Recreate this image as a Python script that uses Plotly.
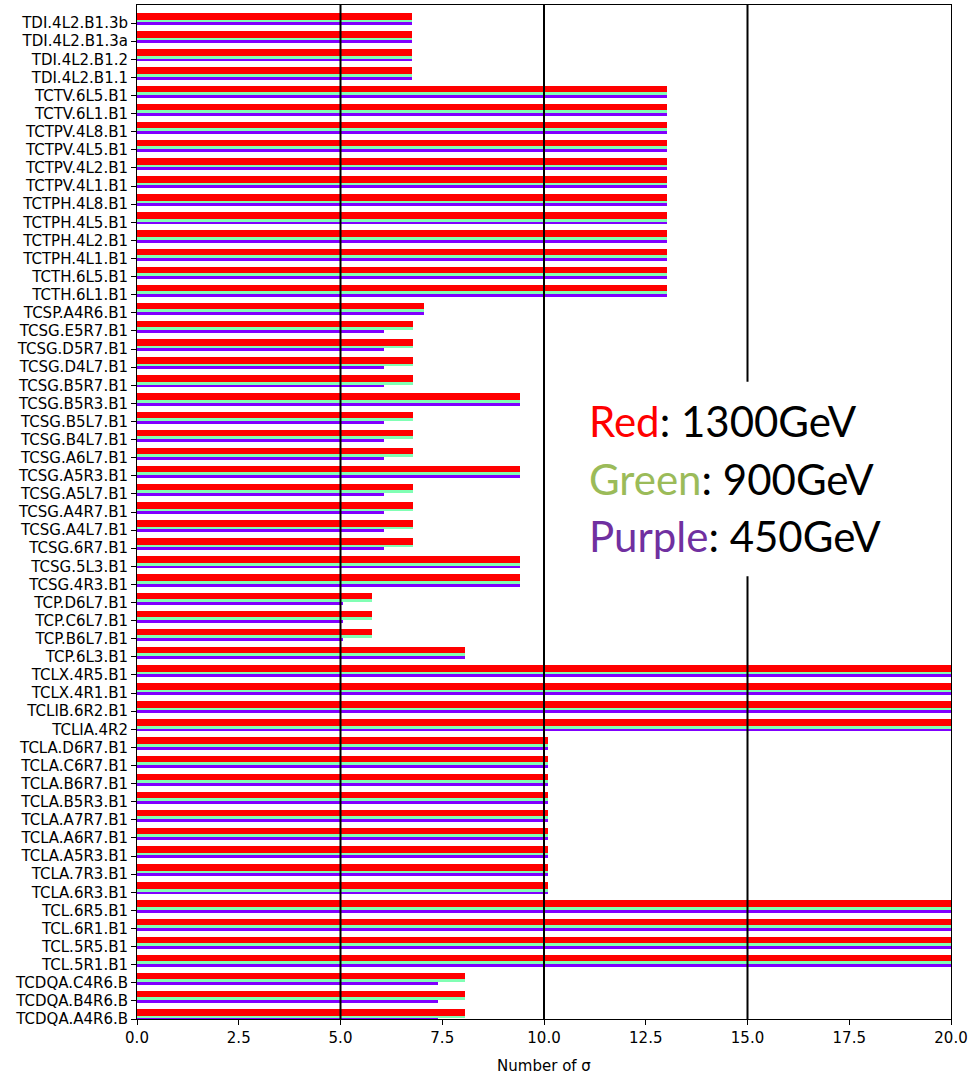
import plotly.graph_objects as go

categories = [
    "TCDQA.A4R6.B", "TCDQA.B4R6.B", "TCDQA.C4R6.B",
    "TCL.5R1.B1", "TCL.5R5.B1", "TCL.6R1.B1", "TCL.6R5.B1",
    "TCLA.6R3.B1", "TCLA.7R3.B1", "TCLA.A5R3.B1", "TCLA.A6R7.B1", "TCLA.A7R7.B1",
    "TCLA.B5R3.B1", "TCLA.B6R7.B1", "TCLA.C6R7.B1", "TCLA.D6R7.B1",
    "TCLIA.4R2", "TCLIB.6R2.B1", "TCLX.4R1.B1", "TCLX.4R5.B1",
    "TCP.6L3.B1", "TCP.B6L7.B1", "TCP.C6L7.B1", "TCP.D6L7.B1",
    "TCSG.4R3.B1", "TCSG.5L3.B1", "TCSG.6R7.B1", "TCSG.A4L7.B1", "TCSG.A4R7.B1",
    "TCSG.A5L7.B1", "TCSG.A5R3.B1", "TCSG.A6L7.B1", "TCSG.B4L7.B1", "TCSG.B5L7.B1",
    "TCSG.B5R3.B1", "TCSG.B5R7.B1", "TCSG.D4L7.B1", "TCSG.D5R7.B1", "TCSG.E5R7.B1",
    "TCSP.A4R6.B1",
    "TCTH.6L1.B1", "TCTH.6L5.B1",
    "TCTPH.4L1.B1", "TCTPH.4L2.B1", "TCTPH.4L5.B1", "TCTPH.4L8.B1",
    "TCTPV.4L1.B1", "TCTPV.4L2.B1", "TCTPV.4L5.B1", "TCTPV.4L8.B1",
    "TCTV.6L1.B1", "TCTV.6L5.B1",
    "TDI.4L2.B1.1", "TDI.4L2.B1.2", "TDI.4L2.B1.3a", "TDI.4L2.B1.3b",
]

red_1300 = [
    8.05, 8.05, 8.05,
    30, 30, 30, 30,
    10.1, 10.1, 10.1, 10.1, 10.1, 10.1, 10.1, 10.1, 10.1,
    30, 30, 30, 30,
    8.05, 5.78, 5.78, 5.78,
    9.4, 9.4, 6.78, 6.78, 6.78, 6.78, 9.4, 6.78, 6.78, 6.78,
    9.4, 6.78, 6.78, 6.78, 6.78,
    7.06,
    13.02, 13.02, 13.02, 13.02, 13.02, 13.02, 13.02, 13.02, 13.02, 13.02, 13.02, 13.02,
    6.75, 6.75, 6.75, 6.75,
]

green_900 = [
    8.05, 8.05, 8.05,
    30, 30, 30, 30,
    10.1, 10.1, 10.1, 10.1, 10.1, 10.1, 10.1, 10.1, 10.1,
    30, 30, 30, 30,
    8.05, 5.78, 5.78, 5.78,
    9.4, 9.4, 6.78, 6.78, 6.78, 6.78, 9.4, 6.78, 6.78, 6.78,
    9.4, 6.78, 6.78, 6.78, 6.78,
    7.06,
    13.02, 13.02, 13.02, 13.02, 13.02, 13.02, 13.02, 13.02, 13.02, 13.02, 13.02, 13.02,
    6.75, 6.75, 6.75, 6.75,
]

purple_450 = [
    7.4, 7.4, 7.4,
    30, 30, 30, 30,
    10.1, 10.1, 10.1, 10.1, 10.1, 10.1, 10.1, 10.1, 10.1,
    30, 30, 30, 30,
    8.05, 5.07, 5.07, 5.07,
    9.4, 9.4, 6.07, 6.07, 6.07, 6.07, 9.4, 6.07, 6.07, 6.07,
    9.4, 6.07, 6.07, 6.07, 6.07,
    7.06,
    13.02, 13.02, 13.02, 13.02, 13.02, 13.02, 13.02, 13.02, 13.02, 13.02, 13.02, 13.02,
    6.75, 6.75, 6.75, 6.75,
]

x_ticks = [0, 2.5, 5, 7.5, 10, 12.5, 15, 17.5, 20]
x_tick_labels = ["0.0", "2.5", "5.0", "7.5", "10.0", "12.5", "15.0", "17.5", "20.0"]
threshold_lines = [5, 10, 15]

pos = list(range(len(categories)))

# visible bands of each bar within a category slot
series = [
    ("1300GeV", red_1300, "#ff0000", 0.37, 0.36),
    ("900GeV", green_900, "#80ffb4", 0.115, 0.15),
    ("450GeV", purple_450, "#8000ff", -0.04, 0.16),
]

fig = go.Figure()
for name, vals, color, off, w in series:
    fig.add_trace(go.Bar(
        x=vals, y=[p + off for p in pos], orientation="h", width=w,
        marker=dict(color=color, line=dict(width=0)), name=name, showlegend=False,
    ))

shapes = []
for xv in threshold_lines:
    shapes.append(dict(type="line", xref="x", yref="paper", x0=xv, x1=xv, y0=0, y1=1,
                       line=dict(color="black", width=2), layer="above"))
# white box behind legend text
shapes.append(dict(type="rect", xref="x", yref="y", x0=11.0, x1=18.8, y0=24.45, y1=35.2,
                   fillcolor="white", line=dict(width=0), layer="above"))

legend_lines = [
    ("Red", "#ff0000", ": 1300GeV", 33.02),
    ("Green", "#9bbb59", ": 900GeV", 29.83),
    ("Purple", "#7030a0", ": 450GeV", 26.65),
]
annotations = []
for word, col, rest, yv in legend_lines:
    annotations.append(dict(
        x=11.05, y=yv, xref="x", yref="y", xanchor="left", yanchor="middle",
        text=f"<span style='color:{col}'>{word}</span>{rest}", showarrow=False,
        font=dict(family="Lato", size=42, color="black"),
    ))

fig.update_layout(
    width=972, height=1077,
    margin=dict(l=137, r=21, t=5, b=58),
    plot_bgcolor="white", paper_bgcolor="white",
    barmode="overlay", bargap=0,
    shapes=shapes, annotations=annotations,
    font=dict(family="DejaVu Sans", size=15, color="black"),
)
fig.update_xaxes(
    range=[0, 20], tickvals=x_ticks, ticktext=x_tick_labels,
    showgrid=False, zeroline=False, showline=True, mirror=True, linecolor="black", linewidth=1,
    ticks="outside", ticklen=5, tickcolor="black",
    title=dict(text="Number of σ", font=dict(size=15), standoff=14),
)
fig.update_yaxes(
    range=[0, 56], tickvals=pos, ticktext=categories,
    showgrid=False, zeroline=False, showline=True, mirror=True, linecolor="black", linewidth=1,
    ticks="outside", ticklen=5, tickcolor="black",
)

fig.write_html("out.html")
